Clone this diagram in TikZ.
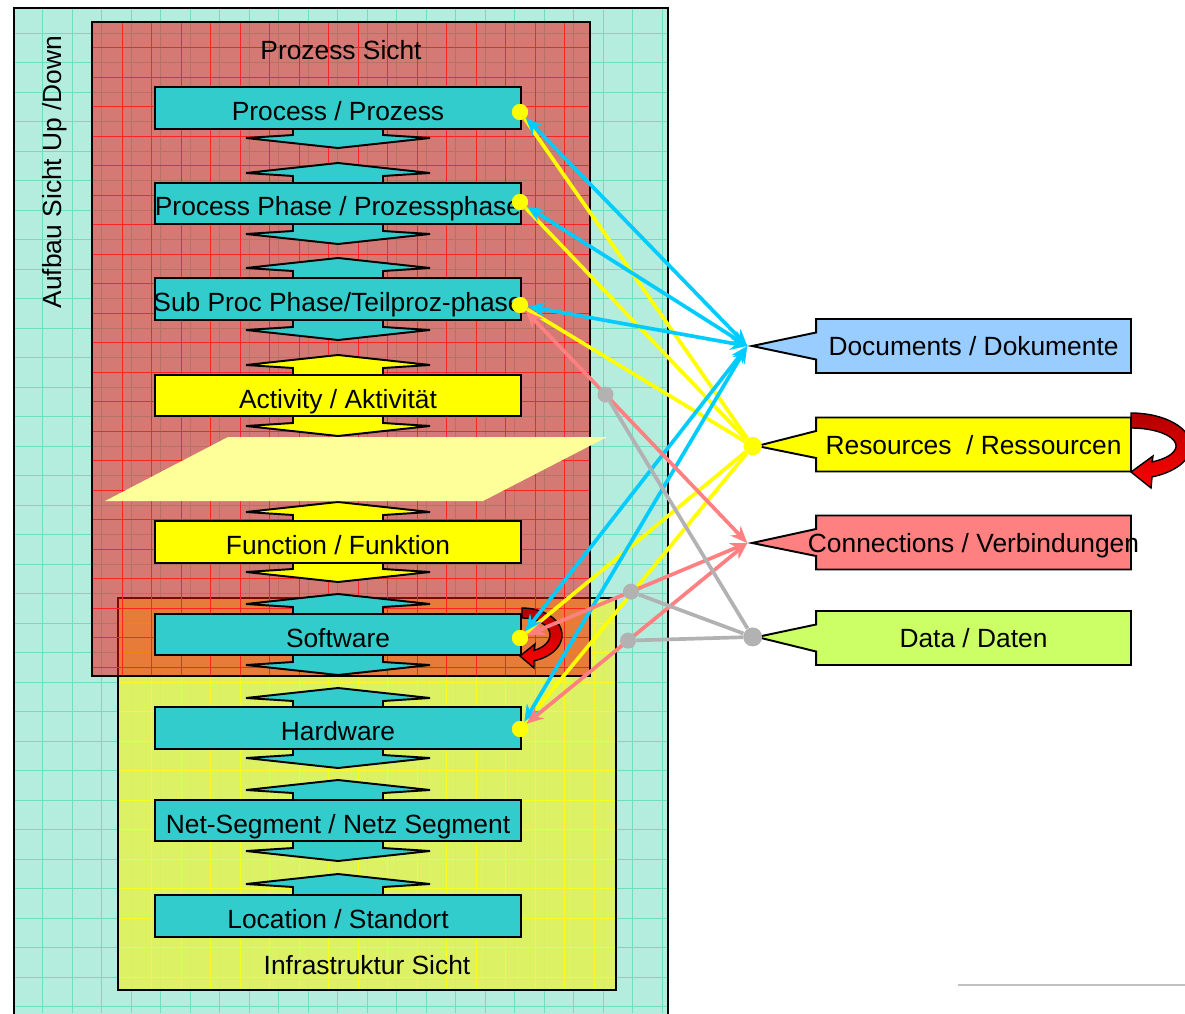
\documentclass[tikz,border=0pt]{standalone}
\usepackage{fontspec}
\setmainfont{Liberation Sans}
\usetikzlibrary{arrows.meta,shapes.callouts}

\definecolor{aufbauteal}{RGB}{180,236,222}
\definecolor{tealgrid}{RGB}{110,222,190}
\definecolor{prozessred}{RGB}{243,17,20}
\definecolor{redgrid}{RGB}{255,35,35}
\definecolor{infrayellow}{RGB}{224,242,90}
\definecolor{yellowgrid}{RGB}{250,250,30}
\definecolor{objteal}{RGB}{51,204,204}
\definecolor{objyellow}{RGB}{255,255,0}
\definecolor{paleyellow}{RGB}{255,255,153}
\definecolor{docblue}{RGB}{153,204,255}
\definecolor{connpink}{RGB}{255,128,128}
\definecolor{datagreen}{RGB}{204,255,102}
\definecolor{linkblue}{RGB}{0,204,255}
\definecolor{linkgray}{RGB}{178,178,178}

\newcommand{\ctr}[1]{\makebox[0pt]{#1}}

\begin{document}
\begin{tikzpicture}[x=0.02cm,y=-0.02cm,font=\fontsize{15}{18}\selectfont,
  layerbox/.style={draw=black,line width=1.1pt,minimum width=7.32cm,minimum height=0.83cm,inner sep=0pt,text height=0.5cm,text depth=0cm},
  stemhead/.style={draw=black,line width=1.1pt},
  labelbox/.style={rectangle callout,draw=black,line width=1.1pt,minimum width=6.3cm,minimum height=1.08cm,inner sep=0pt,text height=0.38cm,text depth=0cm,callout pointer width=0.54cm},
  ydot/.style={circle,fill=objyellow,inner sep=0pt,minimum size=0.32cm},
  gdot/.style={circle,fill=linkgray,inner sep=0pt,minimum size=0.32cm},
  doclink/.style={linkblue,line width=2.1pt,{Stealth[length=0.34cm,width=0.28cm]}-{Stealth[length=0.34cm,width=0.28cm]}},
  reslink/.style={objyellow,line width=2.1pt},
  connlink/.style={connpink,line width=2.1pt,{Stealth[length=0.34cm,width=0.28cm]}-{Stealth[length=0.34cm,width=0.28cm]}},
  datalink/.style={linkgray,line width=2.1pt},
  cyclearrow/.style={draw=black,line width=0.8pt,top color=red!70!black,bottom color=red}]
\useasboundingbox (0,0) rectangle (1185,1013);

% background views
\fill[aufbauteal] (14,8) rectangle (668,1030);
\foreach \k in {1,...,22} \draw[tealgrid,line width=0.5pt] ({13+29.5*\k},8) -- ({13+29.5*\k},1013);
\foreach \k in {1,...,34} \draw[tealgrid,line width=0.5pt] (14,{3.5+29.5*\k}) -- (668,{3.5+29.5*\k});
\draw[black,line width=1.3pt] (14,1030) -- (14,8) -- (668,8) -- (668,1030);

\fill[infrayellow,fill opacity=0.92] (118,598) rectangle (616,990);
\foreach \k in {5,...,20} \draw[yellowgrid,line width=0.5pt] ({4+29.5*\k},598) -- ({4+29.5*\k},990);
\foreach \k in {0,...,12} \draw[yellowgrid,line width=0.5pt] (118,{623+29.5*\k}) -- (616,{623+29.5*\k});
\draw[black,line width=1.3pt] (118,598) rectangle (616,990);

\fill[prozessred,fill opacity=0.52] (92,22) rectangle (590,676);
\foreach \k in {4,...,19} \draw[redgrid,line width=0.5pt] ({4+29.5*\k},22) -- ({4+29.5*\k},676);
\foreach \k in {1,...,22} \draw[redgrid,line width=0.5pt] (92,{18+29.5*\k}) -- (590,{18+29.5*\k});
\draw[black,line width=1.3pt] (92,22) rectangle (590,676);

\node[rotate=90] (aufbau) at (55,172) {Aufbau Sicht Up /Down};
\node (prozess) at (341,50) {Prozess Sicht};
\node (infra) at (367,965) {Infrastruktur Sicht};

% up/down arrows between the layers
\foreach \yb/\col in {128/objteal,224/objteal,320/objteal,416/objyellow,562/objyellow,655/objteal,748/objteal,841/objteal}
  \filldraw[stemhead,fill=\col] (293,{\yb-3}) -- (293,{\yb+7}) -- (246,{\yb+10}) -- (338,{\yb+20}) -- (430,{\yb+10}) -- (383,{\yb+7}) -- (383,{\yb-3});
\foreach \yt/\col in {183/objteal,278/objteal,375/objyellow,522/objyellow,614/objteal,708/objteal,800/objteal,894/objteal}
  \filldraw[stemhead,fill=\col] (293,{\yt+3}) -- (293,{\yt-7}) -- (246,{\yt-10}) -- (338,{\yt-20}) -- (430,{\yt-10}) -- (383,{\yt-7}) -- (383,{\yt+3});

\node[layerbox,fill=objteal] (proc) at (338,108) {\ctr{Process / Prozess}};
\node[layerbox,fill=objteal] (phase) at (338,203.5) {\ctr{Process Phase / Prozessphase}};
\node[layerbox,fill=objteal] (subproc) at (338,299) {\ctr{Sub Proc Phase/Teilproz-phase}};
\node[layerbox,fill=objyellow] (activity) at (338,395.5) {\ctr{Activity / Aktivität}};
\node[layerbox,fill=objyellow] (function) at (338,542) {\ctr{Function / Funktion}};
\node[layerbox,fill=objteal] (software) at (338,634.5) {\ctr{Software}};
\node[layerbox,fill=objteal] (hardware) at (338,728) {\ctr{Hardware}};
\node[layerbox,fill=objteal] (netseg) at (338,820.5) {\ctr{Net-Segment / Netz Segment}};
\node[layerbox,fill=objteal] (location) at (338,916) {\ctr{Location / Standort}};

\fill[paleyellow] (228,437) -- (607,437) -- (483,501) -- (105,501) -- cycle;

% circular arrows
\path[cyclearrow] plot[domain=90:-72.5,samples=40] ({522+40*cos(\x)},{635-27*sin(\x)})
  -- (534,668) -- (520,656) -- (535,644)
  -- plot[domain=-64.6:90,samples=40] ({522+28*cos(\x)},{635-17*sin(\x)}) -- cycle;
\path[cyclearrow] plot[domain=90:-69.5,samples=40] ({1131+60*cos(\x)},{446-33*sin(\x)})
  -- (1151,488) -- (1131,472) -- (1153,456)
  -- plot[domain=-62:90,samples=40] ({1131+45*cos(\x)},{446-18*sin(\x)}) -- cycle;

% object types
\node[labelbox,fill=docblue,callout absolute pointer={(752,346)}] (docs) at (973.5,346) {\ctr{Documents / Dokumente}};
\node[labelbox,fill=objyellow,callout absolute pointer={(757,446)}] (res) at (973.5,444.5) {\ctr{Resources~~/ Ressourcen}};
\node[labelbox,fill=connpink,callout absolute pointer={(752,543)}] (conn) at (973.5,542.5) {\ctr{Connections / Verbindungen}};
\node[labelbox,fill=datagreen,callout absolute pointer={(757,637)}] (data) at (973.5,638) {\ctr{Data / Daten}};

\node[ydot] (procdot) at (520,112) {};
\node[ydot] (phasedot) at (520,202) {};
\node[ydot] (subdot) at (520,305) {};
\node[ydot] (softdot) at (520,638) {};
\node[ydot] (harddot) at (520,729) {};
\node[ydot,minimum size=0.36cm] (resdot) at (res.pointer) {};

% links
\foreach \d in {procdot,phasedot,subdot,softdot,harddot}
  \draw[reslink] (resdot) -- (\d);
\foreach \d in {procdot,phasedot,subdot,softdot,harddot}
  \draw[doclink] (docs.pointer) -- (\d);
\draw[connlink] (subdot) -- coordinate[pos=0.36] (onsub) (conn.pointer);
\draw[connlink] (softdot) -- coordinate[pos=0.47] (onsoft) (conn.pointer);
\draw[connlink] (harddot) -- coordinate[pos=0.46] (onhard) (conn.pointer);

\node[gdot,minimum size=0.38cm] (datadot) at (data.pointer) {};
\node[gdot] (gsub) at (onsub) {};
\node[gdot] (gsoft) at (onsoft) {};
\node[gdot] (ghard) at (onhard) {};
\foreach \g in {gsub,gsoft,ghard}
  \draw[datalink] (datadot) -- (\g);

\node[ydot] at (procdot) {};
\node[ydot] at (phasedot) {};
\node[ydot] at (subdot) {};
\node[ydot] at (softdot) {};
\node[ydot] at (harddot) {};
\node[ydot,minimum size=0.36cm] at (resdot) {};

\draw[linkgray!80,line width=0.8pt] (958,985) -- (1185,985);
\end{tikzpicture}
\end{document}
